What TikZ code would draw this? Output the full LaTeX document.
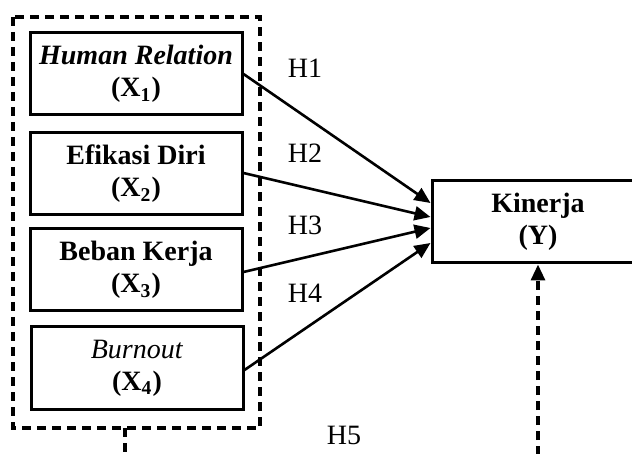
\documentclass[tikz,border=0pt]{standalone}
\usepackage{fontspec}
\setmainfont{Liberation Serif}
\usetikzlibrary{positioning, arrows.meta, calc}

\tikzset{
  varbox/.style={draw, line width=1.5pt, minimum width=106pt, minimum height=41pt, align=center, inner sep=2pt},
  hyparrow/.style={line width=1.3pt, -{Triangle[length=8pt, width=7pt]}},
  hyplabel/.style={inner sep=0pt},
  dashline/.style={line width=1.6pt, dash pattern=on 4.5pt off 3pt}
}

\begin{document}
\begin{tikzpicture}[x=0.5pt, y=-0.5pt, font=\fontsize{14}{16}\selectfont]
        \useasboundingbox (0,0) rectangle (632,454);

        % variabel bebas
        \node[varbox] (x1) at (136,74) {\textbf{\textit{Human Relation}}\\\textbf{(X\textsubscript{1})}};
        \node[varbox] (x2) at (136,174) {\textbf{Efikasi Diri}\\\textbf{(X\textsubscript{2})}};
        \node[varbox] (x3) at (136,270) {\textbf{Beban Kerja}\\\textbf{(X\textsubscript{3})}};
        \node[varbox] (x4) at (137,368) {\textit{Burnout}\\\textbf{(X\textsubscript{4})}};
        \node[varbox] (y) at (538,222) {\textbf{Kinerja}\\\textbf{(Y)}};

        % kotak simultan
        \draw[dashline] (13,17) rectangle (260,428);
        \coordinate (frame) at (125,428);
        \coordinate (frameend) at (125,470);
        \coordinate (ybottom) at (538,470);

        \draw[hyparrow] (x1.east) -- ([yshift=9.5pt]y.west);
        \draw[hyparrow] ([yshift=0.5pt]x2.east) -- ([yshift=2.5pt]y.west);
        \draw[hyparrow] ([yshift=-1pt]x3.east) -- ([yshift=-3pt]y.west);
        \draw[hyparrow] ([yshift=-1pt]x4.east) -- ([yshift=-10.5pt]y.west);
        \draw[dashline] (frame) -- (frameend);
        \draw[dashline, -{Triangle[length=8pt, width=7pt]}] (ybottom) -- (y.south);

        \node[hyplabel] (h1) at (305,68) {H1};
        \node[hyplabel] (h2) at (305,153) {H2};
        \node[hyplabel] (h3) at (305,225) {H3};
        \node[hyplabel] (h4) at (305,293) {H4};
        \node[hyplabel] (h5) at (344,435) {H5};
    \end{tikzpicture}
\end{document}
